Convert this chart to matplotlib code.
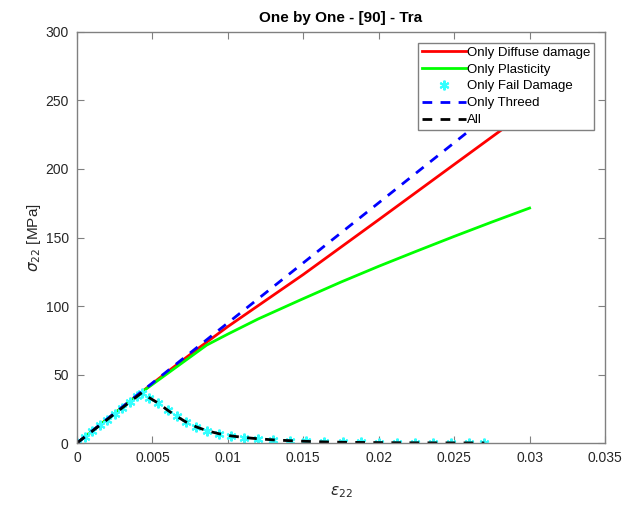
import matplotlib
matplotlib.use("Agg")
import matplotlib.pyplot as plt

plt.rcParams['font.family'] = ['Liberation Sans', 'DejaVu Sans']
plt.rcParams['mathtext.fontset'] = 'dejavusans'

# Only Diffuse damage
diffuse_x = [0, 0.002, 0.004, 0.006, 0.008, 0.010, 0.015, 0.020, 0.025, 0.030]
diffuse_y = [0, 17.4, 34.8, 52.0, 68.8, 85.0, 123.0, 163.0, 203.3, 243.5]

# Only Plasticity
plast_x = [0, 0.004, 0.0086, 0.010, 0.012, 0.0148, 0.0175, 0.020, 0.0225, 0.025, 0.0275, 0.030]
plast_y = [0, 34.8, 71.5, 79.5, 90.5, 104.4, 117.5, 129.0, 140.0, 150.8, 161.3, 171.5]

# Only Threed
threed_x = [0, 0.030]
threed_y = [0, 263.0]

# Only Fail Damage / All
fail_x = [0, 0.0005, 0.001, 0.0015, 0.002, 0.0025, 0.003, 0.0035, 0.004, 0.0043,
          0.0048, 0.0054, 0.006, 0.0066, 0.0072, 0.0079, 0.0086, 0.0094, 0.0102,
          0.0111, 0.012, 0.013, 0.0141, 0.0152, 0.0164, 0.0176, 0.0188, 0.020,
          0.0212, 0.0224, 0.0236, 0.0248, 0.026, 0.027]
fail_y = [0, 4.3, 8.6, 12.8, 17.1, 21.4, 25.7, 29.9, 34.2, 36.7,
          33.0, 29.0, 24.0, 19.5, 15.5, 11.8, 9.0, 6.8, 5.2,
          4.0, 3.1, 2.3, 1.7, 1.2, 0.8, 0.55, 0.4, 0.3,
          0.2, 0.15, 0.1, 0.08, 0.06, 0.05]

x_ticks = [0, 0.005, 0.01, 0.015, 0.02, 0.025, 0.03, 0.035]
x_tick_labels = ['0', '0.005', '0.01', '0.015', '0.02', '0.025', '0.03', '0.035']
y_ticks = [0, 50, 100, 150, 200, 250, 300]

fig = plt.figure(figsize=(6.24, 5.07), dpi=100)
ax = fig.add_axes([0.1234, 0.1262, 0.8462, 0.8107])

ax.plot(diffuse_x, diffuse_y, color='#ff0000', lw=2.0, label='Only Diffuse damage')
ax.plot(plast_x, plast_y, color='#00ff00', lw=2.0, label='Only Plasticity')
ax.plot(fail_x, fail_y, linestyle='none', marker=(6, 2, 0), color='#33ffff',
        markersize=7, markeredgewidth=1.5, label='Only Fail Damage')
ax.plot(threed_x, threed_y, color='#0000ff', lw=2.0, linestyle=(0, (3.5, 3)), label='Only Threed')
ax.plot(fail_x, fail_y, color='#000000', lw=2.0, linestyle=(0, (3.5, 3)), label='All')

ax.set_xlim(0, 0.035)
ax.set_ylim(0, 300)
ax.set_xticks(x_ticks)
ax.set_xticklabels(x_tick_labels)
ax.set_yticks(y_ticks)

ax.tick_params(direction='in', top=True, right=True, length=5, width=0.8,
               colors='#808080', labelcolor='#262626', labelsize=10, pad=6)
for s in ax.spines.values():
    s.set_color('#808080')
    s.set_linewidth(1.0)

ax.set_title('One by One - [90] - Tra', fontsize=11, fontweight='bold', color='#000000', pad=7)
ax.set_xlabel(r'$\epsilon_{22}$', fontsize=11, color='#262626', labelpad=14)
ax.set_ylabel(r'$\sigma_{22}$ [MPa]', fontsize=11, color='#262626', labelpad=2)

leg = ax.legend(loc='upper right', fontsize=9.5, frameon=True, fancybox=False,
                edgecolor='#808080', framealpha=1, handlelength=3.3,
                handletextpad=0.1, borderaxespad=0.8, labelspacing=0.35,
                borderpad=0.3)
leg.get_frame().set_linewidth(1.0)

fig.savefig('out.png', dpi=100)
